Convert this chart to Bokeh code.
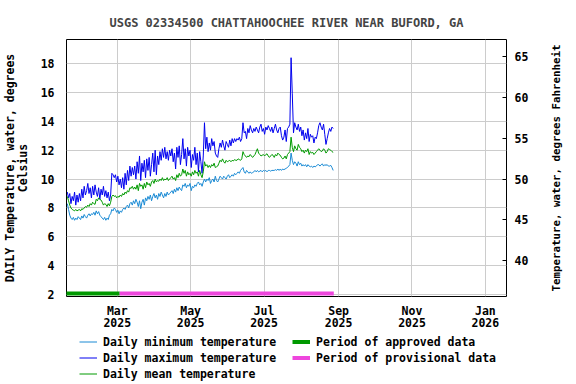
import math
from datetime import datetime
import pandas as pd
from bokeh.plotting import figure
from bokeh.layouts import row, column
from bokeh.models import Range1d, LinearAxis, FixedTicker, DatetimeTickFormatter, Legend, LegendItem, Label
from bokeh.embed import file_html
from bokeh.resources import INLINE

# ---------------- data ----------------
start_date = "2025-01-18"

tmax = [
    9.1, 8.7, 9.0, 8.3, 8.8, 8.5, 9.1, 8.2, 8.9, 8.4,
    9.0, 8.5, 9.3, 8.7, 9.5, 8.9, 9.2, 9.7, 9.0, 9.4,
    8.7, 9.5, 8.9, 9.6, 9.1, 8.8, 9.4, 8.6, 9.3, 8.9,
    9.5, 8.8, 9.2, 8.7, 9.1, 8.5, 8.9,
    10.4, 10.3, 10.1, 10.3, 9.8, 10.2, 9.6, 10.0, 9.4, 10.1,
    9.3, 10.4, 9.6, 10.6, 9.9, 10.9, 10.2, 10.8, 10.3, 10.9,
    10.0, 11.2, 10.4, 11.6, 9.9, 11.1, 10.5, 11.3, 10.1, 11.4,
    10.6, 11.5, 10.2, 11.0, 11.8, 10.5, 12.0, 10.3, 11.6, 11.0,
    11.9, 11.3, 12.1, 11.5, 12.2, 11.4, 11.9, 11.3, 12.0, 11.6,
    12.1, 11.2, 11.8, 10.7, 12.2, 11.5, 12.3, 11.0, 11.7, 12.8,
    11.4, 12.1, 10.9, 12.2, 11.6, 12.0, 10.8, 11.7, 11.3, 12.2,
    11.0, 11.8, 10.5, 11.9, 11.2, 10.4, 11.6,
    13.9,
    12.1, 12.9, 11.9, 12.5, 12.0, 12.8, 12.3, 12.6, 11.8, 11.6, 11.5,
    12.1, 12.5, 12.2, 12.7, 12.3, 12.0, 12.6, 12.4, 12.2, 12.7,
    12.3, 12.8, 12.5, 12.8, 12.6, 12.8, 12.7, 12.9, 12.6, 12.8,
    13.9, 13.2,
    13.3, 12.8, 13.5, 13.2, 13.7, 13.4, 13.2, 13.5, 13.3, 13.6,
    13.4, 13.2, 13.6, 13.8, 13.3, 13.5, 13.1, 13.6, 13.4, 13.7,
    13.5, 13.3, 13.6, 13.2, 13.5, 13.8, 13.4, 13.2, 13.5, 13.6,
    13.0, 12.7, 12.9, 13.4, 12.6, 13.5, 13.6, 13.8,
    18.4, 15.9,
    13.2, 13.9, 13.6, 13.4, 13.8, 13.3, 13.6, 13.0, 13.4, 12.7,
    13.2, 12.8, 13.5, 12.6, 13.1, 12.9, 13.0, 12.5, 12.9, 12.8,
    13.2, 13.7, 13.9, 13.6, 13.4, 13.8, 13.1, 12.4, 12.8, 13.2,
    13.5, 13.3, 13.6, 13.5,
]

tmean = [
    8.8, 8.5, 8.2, 8.0, 7.9, 7.85, 7.8, 7.9, 7.8, 7.85,
    7.9, 7.8, 7.95, 7.9, 8.0, 8.1, 8.05, 8.2, 8.1, 8.3,
    8.2, 8.4, 8.3, 8.25, 8.6, 8.5, 8.7, 8.6, 8.55, 8.4,
    8.2, 8.3, 8.25, 8.1, 8.3, 8.15, 8.4,
    8.8, 8.9, 8.8, 8.85, 8.7, 8.8, 8.75, 8.9, 8.8, 9.0,
    8.9, 9.1, 9.0, 9.2, 9.1, 9.4, 9.35, 9.5, 9.3, 9.45,
    9.3, 9.6, 9.2, 9.7, 9.5, 9.6, 9.3, 9.7, 9.4, 9.8,
    9.6, 9.7, 9.5, 9.8, 9.9, 9.7, 10.0, 9.8, 9.9, 9.85,
    10.0, 9.9, 10.1, 9.9, 10.0, 9.95, 10.1, 9.9, 10.0, 10.1,
    10.2, 10.0, 10.1, 9.9, 10.3, 10.1, 10.4, 10.2, 10.3, 10.7,
    10.4, 10.6, 10.2, 10.5, 10.3, 10.4, 10.2, 10.5, 10.3, 10.6,
    10.4, 10.5, 10.2, 10.6, 10.3, 10.1, 10.5,
    11.2,
    10.9, 11.0, 10.8, 10.95, 10.8, 11.0, 10.9, 11.1, 10.8, 10.85, 10.9,
    11.1, 11.3, 11.2, 11.4, 11.2, 11.1, 11.3, 11.2, 11.25, 11.3,
    11.2, 11.3, 11.25, 11.35, 11.3, 11.3, 11.4, 11.35, 11.3, 11.4,
    11.9, 11.7,
    11.6, 11.5, 11.6, 11.55, 11.7, 11.6, 11.5, 11.6, 11.7, 11.9,
    12.1, 11.8, 11.7, 11.6, 11.65, 11.7, 11.6, 11.7, 11.75, 11.6,
    11.5, 11.6, 11.7, 11.65, 11.5, 11.7, 11.6, 11.8, 11.7, 11.65,
    11.5, 11.4, 11.45, 11.6, 11.4, 11.7, 11.8, 11.9,
    12.9, 12.2,
    11.9, 12.3, 12.1, 12.0, 12.4, 12.2, 12.1, 11.9, 12.0, 11.8,
    12.0, 11.9, 12.1, 11.7, 11.9, 11.8, 11.85, 11.7, 11.8, 11.9,
    12.0, 12.1, 12.0, 11.9, 11.95, 12.1, 12.0, 11.8, 11.9, 12.1,
    12.05, 12.0, 11.9, 11.85,
]

tmin = [
    8.3, 7.9, 7.5, 7.3, 7.2, 7.35, 7.15, 7.3, 7.2, 7.4,
    7.3, 7.2, 7.45, 7.3, 7.55, 7.4, 7.3, 7.5, 7.6, 7.45,
    7.6, 7.55, 7.7, 7.5, 7.8, 7.6, 7.75, 7.5, 7.4, 7.3,
    7.2, 7.35, 7.15, 7.3, 7.2, 7.5, 7.6,
    7.9, 7.8, 8.0, 7.9, 7.7, 7.85, 7.6, 7.8, 7.7, 7.9,
    8.0, 7.9, 8.1, 8.2, 8.0, 8.3, 8.4, 8.2, 8.5, 8.3,
    8.6, 8.4, 8.1, 8.5, 7.95, 8.4, 8.6, 8.2, 8.7, 8.5,
    8.8, 8.6, 8.9, 8.5, 8.8, 9.0, 8.7, 8.9, 8.6, 9.0,
    8.8, 9.1, 8.9, 8.7, 9.0, 8.8, 9.1, 8.9, 9.0, 9.1,
    9.2, 9.0, 9.3, 9.1, 9.4, 9.2, 9.45, 9.3, 9.2, 9.6,
    9.5, 9.7, 9.4, 9.6, 9.5, 9.7, 9.2, 9.5, 9.4, 9.6,
    9.5, 9.7, 9.8, 9.6, 9.7, 9.5, 9.8,
    10.0,
    9.8, 10.0, 9.9, 10.1, 9.7, 9.9, 10.0, 9.8, 10.2, 9.9, 9.8,
    10.0, 10.2, 10.1, 10.0, 10.2, 10.1, 10.0, 10.2, 10.3, 10.1,
    10.2, 10.3, 10.2, 10.4, 10.3, 10.4, 10.5, 10.4, 10.6, 10.7,
    10.8, 10.5,
    10.4, 10.6, 10.5, 10.4, 10.5, 10.4, 10.45, 10.5, 10.6, 10.5,
    10.6, 10.5, 10.55, 10.6, 10.5, 10.6, 10.55, 10.6, 10.5, 10.6,
    10.6, 10.55, 10.6, 10.6, 10.6, 10.65, 10.6, 10.7, 10.6, 10.7,
    10.6, 10.7, 10.65, 10.7, 10.75, 10.8, 10.9, 11.0,
    11.8, 11.3,
    11.0, 11.2, 11.1, 10.9, 11.2, 11.0, 11.1, 10.9, 11.0, 10.9,
    11.0, 10.85, 11.0, 10.9, 10.85, 10.9, 10.8, 10.9, 10.85, 10.9,
    11.0, 11.0, 10.9, 11.0, 11.05, 10.9, 11.0, 10.95, 11.0, 10.9,
    10.9, 10.95, 10.8, 10.6,
]

approved_period = ["2025-01-17", "2025-03-03"]
provisional_period = ["2025-03-03", "2025-08-28"]

x_tick_dates = ["2025-03-01", "2025-05-01", "2025-07-01", "2025-09-01", "2025-11-01", "2026-01-01"]
c_ticks = [2, 4, 6, 8, 10, 12, 14, 16, 18]
f_ticks = [40, 45, 50, 55, 60, 65]

title_text = "USGS 02334500 CHATTAHOOCHEE RIVER NEAR BUFORD, GA"
left_label = "DAILY Temperature, water, degrees\nCelsius"
right_label = "Temperature, water, degrees Fahrenheit"
legend_labels = ["Daily minimum temperature", "Daily maximum temperature", "Daily mean temperature",
                 "Period of approved data", "Period of provisional data"]

# ---------------- styles ----------------
FONT = "DejaVu Sans Mono"
FS = "11.5px"
C_MIN = "#1a8ad4"
C_MAX = "#0000ee"
C_MEAN = "#009a00"
C_APPROVED = "#009900"
C_PROV = "#ee46dd"
BAR_LEVEL = 2.08
MAIN_H = 334
FRAME_BOTTOM = 296   # page y of the plot frame's lower edge


def dates_for(vals):
    return pd.date_range(start_date, periods=len(vals), freq="D") + pd.Timedelta(hours=12)


p = figure(width=546, height=MAIN_H, x_axis_type="datetime",
           output_backend="svg", toolbar_location=None,
           x_range=Range1d(datetime(2025, 1, 17, 19), datetime(2026, 1, 18, 14)),
           y_range=Range1d(1.875, 19.66),
           min_border_left=64, min_border_right=40, min_border_top=39,
           min_border_bottom=MAIN_H - FRAME_BOTTOM)

p.background_fill_color = "white"
p.border_fill_color = "white"
p.outline_line_color = "black"
p.outline_line_width = 1

p.title.text = title_text
p.title.align = "center"
p.title.text_font = FONT
p.title.text_font_size = "12px"
p.title.text_font_style = "bold"
p.title.standoff = 19

p.extra_y_ranges = {"F": Range1d(35.65, 67.05)}
raxis = LinearAxis(y_range_name="F", ticker=FixedTicker(ticks=f_ticks))
p.add_layout(raxis, "right")

xt = [pd.Timestamp(d).value / 1e6 for d in x_tick_dates]
p.xaxis.ticker = FixedTicker(ticks=xt)
p.xaxis.formatter = DatetimeTickFormatter(days="%b\n%Y", months="%b\n%Y", years="%b\n%Y")
p.yaxis[0].ticker = FixedTicker(ticks=c_ticks)
p.yaxis[0].axis_label = left_label

for ax in [p.xaxis[0], p.yaxis[0], raxis]:
    ax.major_label_text_font = FONT
    ax.major_label_text_font_size = FS
    ax.major_label_text_font_style = "bold"
    ax.major_label_text_color = "black"
    ax.axis_label_text_font = FONT
    ax.axis_label_text_font_size = FS
    ax.axis_label_text_font_style = "bold"
    ax.axis_label_text_color = "black"
    ax.minor_tick_line_color = None
    ax.axis_line_color = None

p.xaxis.major_tick_line_color = None
p.xaxis.major_label_standoff = 1
p.xaxis.major_label_text_line_height = 0.9
p.yaxis[0].major_tick_line_color = None
p.yaxis[0].major_label_standoff = 6
p.yaxis[0].axis_label_standoff = 8
p.yaxis[0].axis_label_text_line_height = 0.9

raxis.major_tick_in = 4
raxis.major_tick_out = 0
raxis.major_tick_line_color = "black"
raxis.major_label_standoff = 8

p.xgrid.ticker = FixedTicker(ticks=xt)
p.xgrid.grid_line_color = "#cccccc"
p.ygrid.grid_line_color = "#cccccc"

p.line(dates_for(tmin), tmin, line_color=C_MIN, line_width=1)
p.line(dates_for(tmax), tmax, line_color=C_MAX, line_width=1)
p.line(dates_for(tmean), tmean, line_color=C_MEAN, line_width=1)

p.segment(x0=[pd.Timestamp(approved_period[0])], x1=[pd.Timestamp(approved_period[1])],
          y0=[BAR_LEVEL], y1=[BAR_LEVEL], line_color=C_APPROVED, line_width=4)
p.segment(x0=[pd.Timestamp(provisional_period[0])], x1=[pd.Timestamp(provisional_period[1])],
          y0=[BAR_LEVEL], y1=[BAR_LEVEL], line_color=C_PROV, line_width=4)

# narrow companion panel carrying the Fahrenheit axis title (reads bottom-to-top);
# its frame is aligned with the main frame (page y 39..296)
side = figure(width=30, height=MAIN_H, output_backend="svg", toolbar_location=None,
              x_range=Range1d(0, 1), y_range=Range1d(0, 1),
              x_axis_location=None, y_axis_location=None, min_border=0)
side.outline_line_color = None
side.grid.grid_line_color = None
side.background_fill_color = "white"
side.border_fill_color = "white"
side.add_layout(Label(x=10, y=FRAME_BOTTOM - 167.5, x_units="screen", y_units="screen", text=right_label,
                      angle=math.pi / 2, text_align="center", text_baseline="middle",
                      text_font=FONT, text_font_size="10.8px", text_font_style="bold",
                      text_color="black"))

# legend strip below the chart
LG_H = 384 - MAIN_H
lg = figure(width=576, height=LG_H, output_backend="svg", toolbar_location=None,
            x_range=Range1d(0, 1), y_range=Range1d(0, 1),
            x_axis_location=None, y_axis_location=None, min_border=0)
lg.outline_line_color = None
lg.grid.grid_line_color = None
lg.background_fill_color = "white"
lg.border_fill_color = "white"
colors = [C_MIN, C_MAX, C_MEAN, C_APPROVED, C_PROV]
widths = [1, 1, 1, 4, 4]
nan = float("nan")
keys = [lg.line(x=[nan, nan], y=[nan, nan], line_color=c, line_width=w) for c, w in zip(colors, widths)]


def make_legend(idx, loc):
    leg = Legend(items=[LegendItem(label=legend_labels[i], renderers=[keys[i]]) for i in idx], location=loc)
    leg.label_text_font = FONT
    leg.label_text_font_size = FS
    leg.label_text_font_style = "bold"
    leg.label_text_color = "black"
    leg.glyph_width = 18
    leg.glyph_height = 15
    leg.label_height = 15
    leg.label_standoff = 6
    leg.spacing = 1
    leg.padding = 0
    leg.margin = 0
    leg.background_fill_alpha = 0
    leg.border_line_color = None
    lg.add_layout(leg)


make_legend([0, 1, 2], (79, 3))
make_legend([3, 4], (292, 19))

open("out.html", "w").write(file_html(column(row(p, side), lg), INLINE))
